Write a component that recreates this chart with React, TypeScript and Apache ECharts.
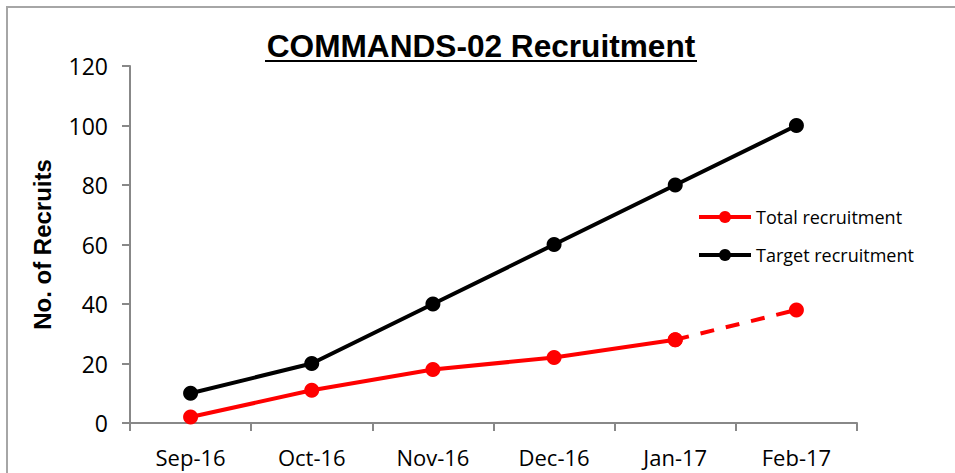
import React, { useEffect, useRef } from "react";
import * as echarts from "echarts";

const categories = ["Sep-16", "Oct-16", "Nov-16", "Dec-16", "Jan-17", "Feb-17"];
const totalRecruitment = [2, 11, 18, 22, 28, null];
const totalProjected = [null, null, null, null, 28, 38];
const targetRecruitment = [10, 20, 40, 60, 80, 100];
const yTicks = { min: 0, max: 120, interval: 20 };
const titleText = "COMMANDS-02 Recruitment";

export default function App() {
  const ref = useRef<HTMLDivElement>(null);
  useEffect(() => {
    if (!ref.current) return;
    const chart = echarts.init(ref.current, undefined, { renderer: "svg" });
    const labelFont = "'Open Sans', sans-serif";
    chart.setOption({
      animation: false,
      backgroundColor: "#ffffff",
      legend: {
        data: ["Total recruitment", "Target recruitment"],
        orient: "vertical",
        left: 692,
        top: 203,
        itemGap: 20,
        itemWidth: 52,
        itemHeight: 15,
        lineStyle: { width: 4 },
        textStyle: { fontFamily: labelFont, fontSize: 18, color: "#000" },
      },
      grid: { left: 130, right: 98, top: 66, bottom: 50 },
      xAxis: {
        type: "category",
        data: categories,
        boundaryGap: true,
        axisLine: { lineStyle: { color: "#888", width: 2 } },
        axisTick: { show: true, length: 8, lineStyle: { color: "#888", width: 2 } },
        axisLabel: { fontFamily: labelFont, fontSize: 22, color: "#000", margin: 23 },
        splitLine: { show: false },
      },
      yAxis: {
        type: "value",
        min: yTicks.min,
        max: yTicks.max,
        interval: yTicks.interval,
        name: "No. of Recruits",
        nameLocation: "middle",
        nameGap: 76,
        nameTextStyle: {
          fontFamily: "'Liberation Sans', Arial, sans-serif",
          fontWeight: "bold",
          fontSize: 24,
          color: "#000",
        },
        axisLine: { show: true, lineStyle: { color: "#888", width: 2 } },
        axisTick: { show: true, length: 8, lineStyle: { color: "#888", width: 2 } },
        axisLabel: { fontFamily: labelFont, fontSize: 23, color: "#000", margin: 22 },
        splitLine: { show: false },
      },
      series: [
        {
          name: "Total recruitment",
          type: "line",
          data: totalRecruitment,
          color: "#ff0000",
          symbol: "circle",
          symbolSize: 15,
          lineStyle: { width: 4, color: "#ff0000" },
          itemStyle: { color: "#ff0000" },
          z: 3,
        },
        {
          name: "Total projected",
          type: "line",
          data: totalProjected,
          color: "#ff0000",
          symbol: "circle",
          symbolSize: 15,
          lineStyle: { width: 4, color: "#ff0000", type: [14, 12] },
          itemStyle: { color: "#ff0000" },
          z: 3,
        },
        {
          name: "Target recruitment",
          type: "line",
          data: targetRecruitment,
          color: "#000000",
          symbol: "circle",
          symbolSize: 15,
          lineStyle: { width: 4, color: "#000000" },
          itemStyle: { color: "#000000" },
          z: 2,
        },
      ],
      graphic: [
        {
          type: "rect",
          shape: { x: 7, y: 7, width: 1000, height: 1000 },
          style: { fill: "none", stroke: "#a6a6a6", lineWidth: 2 },
          silent: true,
        },
        {
          type: "text",
          x: 481,
          y: 47,
          scaleX: 1.02,
          style: {
            text: titleText,
            fontFamily: "'Liberation Sans', Arial, sans-serif",
            fontWeight: "bold",
            fontSize: 31,
            fill: "#000",
            align: "center",
            verticalAlign: "middle",
          },
          silent: true,
        },
        {
          type: "line",
          shape: { x1: 265, y1: 61, x2: 697, y2: 61 },
          style: { stroke: "#000", lineWidth: 2 },
          silent: true,
        },
      ],
    });
    return () => chart.dispose();
  }, []);
  return (
    <div
      ref={ref}
      style={{ position: "fixed", left: 0, top: 0, width: 955, height: 473 }}
    />
  );
}
